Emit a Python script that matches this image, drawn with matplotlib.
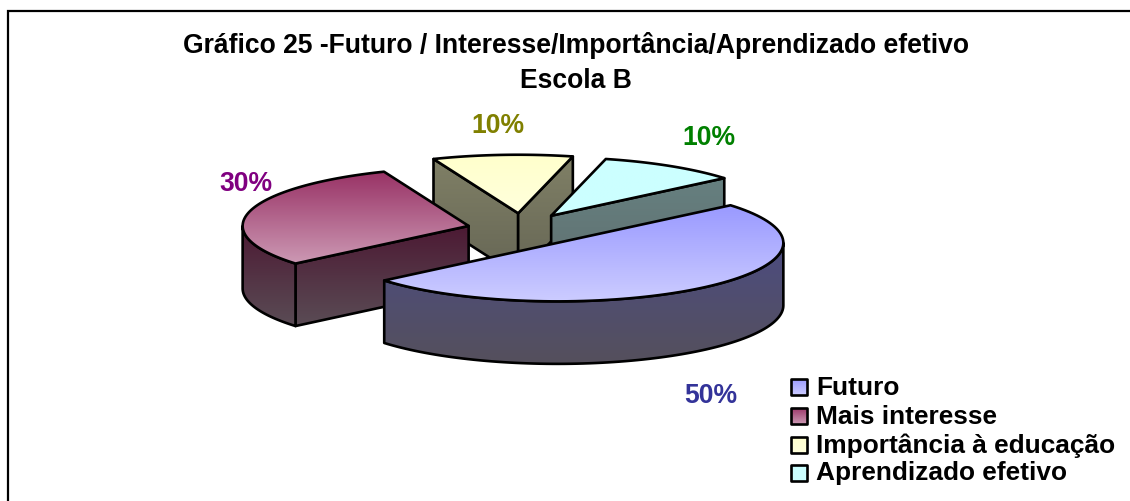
import numpy as np
import matplotlib
matplotlib.use("Agg")
import matplotlib.pyplot as plt
from matplotlib.patches import Polygon
from matplotlib.colors import LinearSegmentedColormap

categories = ["Futuro", "Mais interesse", "Importância à educação", "Aprendizado efetivo"]
values = [50, 30, 10, 10]
value_labels = ["50%", "30%", "10%", "10%"]
title_lines = ["Gráfico 25 -Futuro / Interesse/Importância/Aprendizado efetivo", "Escola B"]

top_from = ["#9999ff", "#993366", "#ffffcc", "#ccffff"]
top_to = ["#ccccff", "#cc99b4", "#ffffdc", "#ccffff"]
wall_from = ["#4c4c80", "#4c1933", "#808066", "#668080"]
wall_to = ["#55505c", "#5a4c55", "#666655", "#607070"]
label_colors = ["#333399", "#800080", "#808000", "#008000"]
label_xy = [(711, 403), (246, 191), (498, 133), (709, 145)]

START = 40.0
CX, CY = 522.0, 230.0
A, B = 226.0, 58.5
EX, EY = 55.0, 16.8
DEPTH = 62.5
LW = 1.9
FONT = "Liberation Sans"

fig = plt.figure(figsize=(11.30, 5.01), dpi=100)
ax = fig.add_axes([0, 0, 1, 1])


def gradient(poly, c0, c1, z):
    ys = poly[:, 1]
    cmap = LinearSegmentedColormap.from_list("g", [c0, c1])
    im = ax.imshow(np.linspace(0, 1, 128)[:, None], cmap=cmap, aspect="auto", zorder=z,
                   extent=(poly[:, 0].min(), poly[:, 0].max(), ys.max(), ys.min()),
                   origin="upper", interpolation="bilinear")
    patch = Polygon(poly, closed=True, facecolor="none", edgecolor="black", lw=LW,
                    joinstyle="round", zorder=z + 0.5)
    ax.add_patch(patch)
    im.set_clip_path(patch)


def arc(apex, t1, t2):
    t = np.radians(np.linspace(t1, t2, 90))
    return np.column_stack([apex[0] + A * np.cos(t), apex[1] - B * np.sin(t)])


# slice angles run clockwise from START
fracs = np.array(values) / sum(values) * 360.0
ends = START - np.cumsum(fracs)
starts = ends + fracs
slices = []
for i in range(len(values)):
    mid = np.radians((starts[i] + ends[i]) / 2)
    apex = np.array([CX + EX * np.cos(mid), CY - EY * np.sin(mid)])
    slices.append((i, apex, starts[i], ends[i]))
slices.sort(key=lambda s: s[1][1])

z = 2
down = np.array([0, DEPTH])
for i, apex, t1, t2 in slices:
    top = arc(apex, t1, t2)
    inner = top[len(top) // 2]
    walls = []
    # flat cut faces facing the viewer
    for p in (top[0], top[-1]):
        d = p - apex
        n = np.array([-d[1], d[0]])
        if np.dot(n, inner - apex) > 0:
            n = -n
        if n[1] > 0:
            walls.append(np.array([apex, p, p + down, apex + down]))
    # outer rim, front half of the ellipse only
    lo, hi = t2 % 360, (t2 % 360) + (t1 - t2)
    for k in (0, 360):
        a0, a1 = max(lo, 180 + k), min(hi, 360 + k)
        if a1 > a0:
            r = arc(apex, a0, a1)
            walls.append(np.vstack([r, (r + down)[::-1]]))
    ymin = min(w[:, 1].min() for w in walls)
    ymax = max(w[:, 1].max() for w in walls)
    for w in walls:
        f0 = (w[:, 1].min() - ymin) / (ymax - ymin)
        f1 = (w[:, 1].max() - ymin) / (ymax - ymin)
        c0 = np.array(matplotlib.colors.to_rgb(wall_from[i]))
        c1 = np.array(matplotlib.colors.to_rgb(wall_to[i]))
        gradient(w, c0 + (c1 - c0) * f0, c0 + (c1 - c0) * f1, z)
        z += 1
    gradient(np.vstack([apex, top]), top_from[i], top_to[i], z)
    z += 1

ax.set_xlim(0, 1130)
ax.set_ylim(501, 0)
ax.axis("off")

# frame
ax.plot([8, 8, 1135], [506, 11, 11], color="black", lw=1.6, zorder=1, solid_joinstyle="miter")

for y, line in zip((53, 88), title_lines):
    ax.text(576, y, line, ha="center", va="baseline", fontsize=19.1, fontweight="bold",
            family=FONT, color="black", zorder=200)

for xy, lab, col in zip(label_xy, value_labels, label_colors):
    ax.text(xy[0], xy[1], lab, ha="center", va="baseline", fontsize=19.1, fontweight="bold",
            family=FONT, color=col, zorder=200)

leg_y = [387, 416, 445, 473]
leg_base = [395, 423.5, 453, 480]
for y, b, name, c0, c1 in zip(leg_y, leg_base, categories, top_from, top_to):
    square = np.array([[790.5, y - 8.5], [807, y - 8.5], [807, y + 8], [790.5, y + 8]], dtype=float)
    gradient(square, c0, c1, z)
    z += 1
    ax.text(816, b, name, ha="left", va="baseline", fontsize=18.9, fontweight="bold",
            family=FONT, color="black", zorder=200)

fig.savefig("out.png", dpi=100)
